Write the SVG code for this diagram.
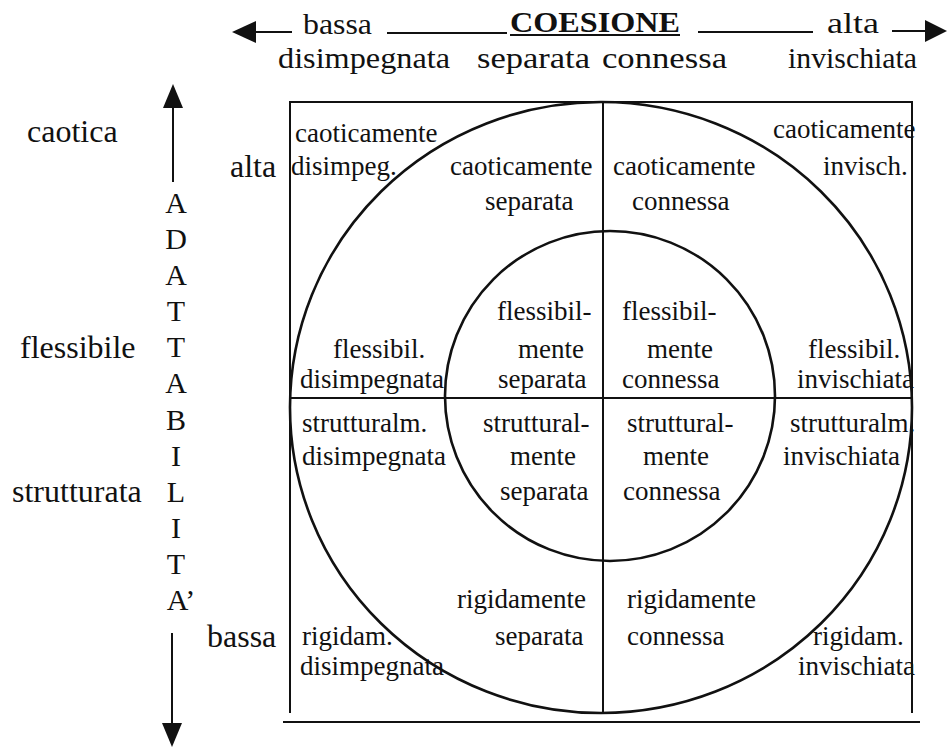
<svg xmlns="http://www.w3.org/2000/svg" width="948" height="747" viewBox="0 0 948 747">
<defs>
<style>
text{font-family:"Liberation Serif","Times New Roman",serif;fill:#111}
.top{font-size:30px}
.lab{font-size:32px}
.let{font-size:30px;text-anchor:middle}
.cell{font-size:27px}
.ln{stroke:#111;stroke-width:2;fill:none}
.circ{stroke:#111;stroke-width:2.6;fill:none}
.ah{fill:#111;stroke:none}
</style>
<clipPath id="topclip"><rect x="0" y="13" width="948" height="80"/></clipPath>
</defs>
<rect width="948" height="747" fill="#fff"/>

<g id="cohesion-header" clip-path="url(#topclip)">
<text class="top" x="303" y="34" textLength="69" lengthAdjust="spacingAndGlyphs">bassa</text>
<text class="top" x="510" y="32" font-weight="bold" textLength="170" lengthAdjust="spacingAndGlyphs">COESIONE</text>
<text class="top" x="827" y="33" textLength="52" lengthAdjust="spacingAndGlyphs">alta</text>
</g>
<g id="cohesion-levels">
<text class="top" x="278" y="68" textLength="172" lengthAdjust="spacingAndGlyphs">disimpegnata</text>
<text class="top" x="477" y="68" textLength="113" lengthAdjust="spacingAndGlyphs">separata</text>
<text class="top" x="602" y="68" textLength="125" lengthAdjust="spacingAndGlyphs">connessa</text>
<text class="top" x="788" y="68" textLength="129" lengthAdjust="spacingAndGlyphs">invischiata</text>
</g>

<g id="adaptability-labels">
<text class="lab" x="27" y="142">caotica</text>
<text class="lab" x="230" y="177">alta</text>
<text class="lab" x="20" y="358">flessibile</text>
<text class="lab" x="12" y="502">strutturata</text>
<text class="lab" x="207" y="647">bassa</text>
</g>
<g id="adaptability-title">
<text class="let" x="176" y="213">A</text>
<text class="let" x="176" y="249">D</text>
<text class="let" x="176" y="285">A</text>
<text class="let" x="176" y="321">T</text>
<text class="let" x="176" y="357">T</text>
<text class="let" x="176" y="393">A</text>
<text class="let" x="176" y="430">B</text>
<text class="let" x="176" y="466">I</text>
<text class="let" x="176" y="502">L</text>
<text class="let" x="176" y="538">I</text>
<text class="let" x="176" y="574">T</text>
<text class="let" x="181" y="610">A’</text>
</g>

<g id="connectors">
<line class="ln" x1="253" y1="32" x2="292" y2="32"/>
<polygon class="ah" points="232,32 256,21 256,43"/>
<line class="ln" x1="387" y1="33" x2="507" y2="33"/>
<line class="ln" x1="510" y1="35" x2="680" y2="35"/>
<line class="ln" x1="698" y1="32" x2="813" y2="32"/>
<line class="ln" x1="892" y1="31" x2="928" y2="31"/>
<polygon class="ah" points="947,31 925,20 925,42"/>
<line class="ln" x1="173" y1="105" x2="173" y2="182"/>
<polygon class="ah" points="173,84 163,108 183,108"/>
<line class="ln" x1="172" y1="633" x2="172" y2="727"/>
<polygon class="ah" points="172,747 162,723 182,723"/>
</g>

<g id="grid">
<polyline class="ln" points="290,713 290,102 912,102 912,713"/>
<line class="ln" x1="603" y1="102" x2="603" y2="713"/>
<line class="ln" x1="290" y1="398" x2="912" y2="398"/>
<line class="ln" x1="283" y1="722" x2="920" y2="722"/>
<ellipse class="circ" cx="601" cy="407.5" rx="311" ry="305.5"/>
<circle class="circ" cx="610" cy="396" r="165"/>
</g>

<g id="caoticamente-disimpegnata"><text class="cell" x="295" y="142">caoticamente</text><text class="cell" x="291" y="175">disimpeg.</text></g>
<g id="caoticamente-separata"><text class="cell" x="450" y="175">caoticamente</text><text class="cell" x="485" y="210">separata</text></g>
<g id="caoticamente-connessa"><text class="cell" x="613" y="175">caoticamente</text><text class="cell" x="632" y="210">connessa</text></g>
<g id="caoticamente-invischiata"><text class="cell" x="773" y="138">caoticamente</text><text class="cell" x="823" y="175">invisch.</text></g>

<g id="flessibilmente-disimpegnata"><text class="cell" x="333" y="358">flessibil.</text><text class="cell" x="300" y="388">disimpegnata</text></g>
<g id="flessibilmente-separata"><text class="cell" x="497" y="320">flessibil-</text><text class="cell" x="518" y="358">mente</text><text class="cell" x="498" y="388">separata</text></g>
<g id="flessibilmente-connessa"><text class="cell" x="622" y="320">flessibil-</text><text class="cell" x="647" y="358">mente</text><text class="cell" x="622" y="388">connessa</text></g>
<g id="flessibilmente-invischiata"><text class="cell" x="808" y="358">flessibil.</text><text class="cell" x="797" y="388">invischiata</text></g>

<g id="strutturalmente-disimpegnata"><text class="cell" x="302" y="432">strutturalm.</text><text class="cell" x="302" y="465">disimpegnata</text></g>
<g id="strutturalmente-separata"><text class="cell" x="483" y="432">struttural-</text><text class="cell" x="510" y="465">mente</text><text class="cell" x="500" y="500">separata</text></g>
<g id="strutturalmente-connessa"><text class="cell" x="627" y="432">struttural-</text><text class="cell" x="643" y="465">mente</text><text class="cell" x="623" y="500">connessa</text></g>
<g id="strutturalmente-invischiata"><text class="cell" x="790" y="432">strutturalm.</text><text class="cell" x="783" y="465">invischiata</text></g>

<g id="rigidamente-disimpegnata"><text class="cell" x="302" y="645">rigidam.</text><text class="cell" x="300" y="675">disimpegnata</text></g>
<g id="rigidamente-separata"><text class="cell" x="457" y="608">rigidamente</text><text class="cell" x="495" y="645">separata</text></g>
<g id="rigidamente-connessa"><text class="cell" x="627" y="608">rigidamente</text><text class="cell" x="627" y="645">connessa</text></g>
<g id="rigidamente-invischiata"><text class="cell" x="813" y="645">rigidam.</text><text class="cell" x="798" y="675">invischiata</text></g>
</svg>
